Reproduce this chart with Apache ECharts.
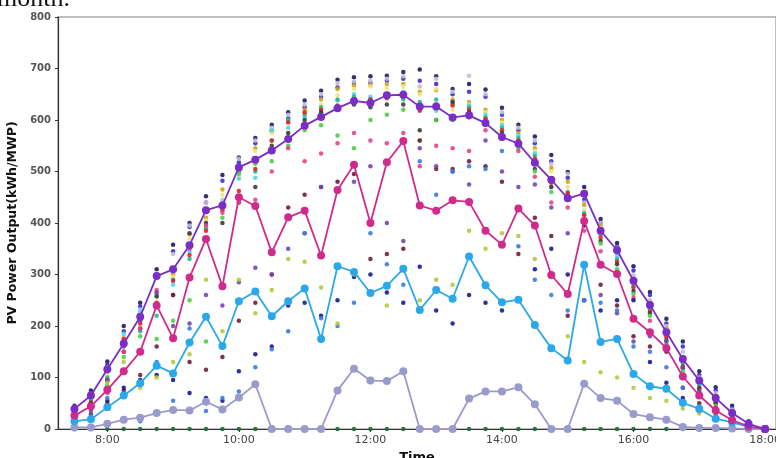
<!DOCTYPE html>
<html><head><meta charset="utf-8">
<script src="https://cdn.jsdelivr.net/npm/echarts@6/dist/echarts.min.js"></script>
<style>html,body{margin:0;padding:0;background:#fff}#c{width:776px;height:458px}</style>
</head><body><div id="c"></div>
<script>
const times = ['7:30','7:45','8:00','8:15','8:30','8:45','9:00','9:15','9:30','9:45','10:00','10:15','10:30','10:45','11:00','11:15','11:30','11:45','12:00','12:15','12:30','12:45','13:00','13:15','13:30','13:45','14:00','14:15','14:30','14:45','15:00','15:15','15:30','15:45','16:00','16:15','16:30','16:45','17:00','17:15','17:30','17:45','18:00'];
const xTickLabels = ['8:00','10:00','12:00','14:00','16:00','18:00'];
const yTicks = [0,100,200,300,400,500,600,700,800];

// highlighted lines
const linePurple  = [39,65,116,166,218,297,310,357,425,434,508,523,541,563,589,606,623,637,633,648,649,626,626,605,609,594,567,554,517,484,448,457,385,347,288,241,188,136,94,60,31,10,0];
const lineMagenta = [26,44,76,112,150,240,176,294,369,277,450,433,343,411,424,337,464,513,400,518,559,434,424,444,441,385,358,428,395,299,262,404,319,301,214,188,157,102,65,36,17,5,0];
const lineBlue    = [15,19,42,65,89,123,108,168,218,161,248,267,219,248,273,175,316,305,264,278,311,231,270,253,335,279,246,251,202,157,133,319,169,175,107,83,78,51,39,20,13,4,0];
const lineGrey    = [3,3,10,18,22,31,37,36,53,38,61,87,0,0,0,0,75,117,94,93,112,0,0,0,59,73,73,81,48,0,0,88,60,55,29,23,18,4,2,2,1,0,0];

// daily scatter values
const day01 = [45,75,131,200,245,310,358,400,452,493,527,565,591,615,638,657,678,683,685,686,693,698,685,660,670,659,624,591,568,532,499,470,408,361,316,266,214,170,112,81,45,15,0];
const day02 = [42,70,125,190,238,300,345,392,440,482,518,555,580,603,625,645,663,672,672,676,680,676,670,650,655,645,610,580,555,520,488,445,400,355,308,260,205,160,105,75,40,12,0];
const day03 = [40,68,120,180,232,265,340,395,440,445,525,560,585,610,630,650,672,675,676,680,685,665,680,655,686,650,615,585,560,515,495,440,400,352,298,250,200,150,100,70,38,10,0];
const day04 = [38,60,110,175,210,262,300,378,410,465,500,545,578,598,620,640,660,667,668,670,670,655,658,640,635,620,600,575,545,507,480,435,395,345,290,245,195,140,95,65,35,9,0];
const day05 = [35,62,105,170,205,255,295,370,405,455,490,540,575,575,612,630,648,660,665,662,665,650,660,620,630,615,595,560,540,500,470,425,390,340,285,240,190,135,92,62,33,8,0];
const day06 = [33,58,112,185,228,258,280,345,395,440,486,488,580,585,605,612,638,650,645,648,655,620,618,630,628,610,590,570,535,470,455,420,382,336,282,235,185,130,88,58,30,7,0];
const day07 = [30,55,100,150,190,220,290,330,390,430,500,500,560,600,610,625,640,645,640,645,640,635,640,635,625,605,585,565,530,482,460,418,378,330,278,232,182,127,85,55,28,6,0];
const day08 = [28,52,95,175,205,245,288,338,385,425,462,505,560,595,615,620,628,640,640,642,645,618,630,628,620,602,580,560,525,478,458,415,372,325,275,228,178,122,80,52,26,5,0];
const day09 = [25,50,93,150,195,258,260,380,400,400,440,470,550,575,600,615,625,630,625,630,630,580,600,635,615,595,575,550,505,470,450,405,365,320,268,225,172,118,78,50,25,5,0];
const day10 = [20,45,85,140,180,175,210,250,170,410,495,515,520,550,580,590,570,545,600,610,620,560,600,600,605,590,570,545,500,460,445,400,360,310,262,220,165,112,72,45,22,4,0];
const day11 = [20,40,70,150,195,270,310,350,395,420,440,445,500,545,520,535,555,575,560,555,575,510,550,545,540,580,565,540,490,440,430,385,345,305,255,210,160,105,70,42,20,4,0];
const day12 = [10,28,50,75,105,160,260,130,115,140,210,245,300,430,455,470,480,495,330,340,350,560,505,505,520,510,480,340,410,375,220,250,280,240,180,160,150,80,50,30,12,3,0];
const day13 = [12,35,95,160,210,265,200,205,260,240,285,313,300,350,380,470,465,480,510,400,365,545,510,500,475,560,500,470,475,430,380,250,260,225,170,180,170,120,75,40,18,3,0];
const day14 = [5,20,55,80,95,105,95,70,60,55,112,145,160,240,245,220,250,295,300,265,245,315,230,205,260,245,230,250,310,350,300,395,230,250,250,130,90,60,35,20,8,2,0];
const day15 = [8,25,60,110,15,130,55,195,35,60,73,120,155,190,380,215,200,245,380,320,280,520,455,500,510,505,540,355,290,260,230,250,245,230,160,150,120,80,45,25,10,2,0];
const day16 = [18,45,90,130,80,100,130,145,290,190,290,225,270,330,325,275,205,300,265,240,310,250,290,280,385,350,380,375,330,295,180,130,110,100,80,60,55,40,30,18,8,2,0];
const day17 = [0,0,0,0,0,0,0,0,0,0,0,0,0,0,0,0,0,0,0,0,0,0,0,0,0,0,0,0,0,0,0,0,0,0,0,0,0,0,0,0,0,0,0];

const days = [day01,day02,day03,day04,day05,day06,day07,day08,day09,day10,day11,day12,day13,day14,day15,day16,day17];
const dayColors = ['#1c1c5c','#3a2fc6','#bcbcd6','#d2a21c','#f0e47a','#52d6ea','#22b89a','#e02424','#3c3c3c','#4ccd48','#e8408a','#6e1e40','#7246b2','#1a1a92','#3a7ce0','#b4c840','#1b6b3a'];

function toMin(s){const p=s.split(':');return (+p[0])*60+(+p[1]);}
function fmt(v){const h=Math.floor(v/60),m=v%60;return h+':'+(m<10?'0':'')+m;}
const xs = times.map(toMin);
const pairs = arr => arr.map((v,i)=>[xs[i],v]);

const series = [];
days.forEach((d,k)=>{
  series.push({type:'scatter',data:pairs(d),symbolSize:4.5,itemStyle:{color:dayColors[k],opacity:0.9},silent:true,z:2});
});
const lines = [[lineGrey,'#9a9acb'],[lineBlue,'#2ba8ea'],[lineMagenta,'#d02b8c'],[linePurple,'#7b2ec6']];
lines.forEach(([d,c])=>{
  series.push({type:'line',data:pairs(d),symbol:'circle',symbolSize:8,lineStyle:{color:c,width:1.8},itemStyle:{color:c},z:5});
});

const chart = echarts.init(document.getElementById('c'));
chart.setOption({
  animation:false,
  backgroundColor:'#fff',
  grid:{left:58,top:17,right:0,bottom:29,outerBoundsMode:'none',containLabel:false,show:true,borderColor:'#aaaaaa',borderWidth:1.5},
  graphic:[{type:'text',left:-3,top:-14,style:{text:'month.',font:'26px "Liberation Serif"',fill:'#111'}}],
  xAxis:{type:'value',min:435,max:1090,
    name:'Time',nameLocation:'middle',nameGap:13,nameTextStyle:{fontWeight:'bold',fontSize:13,color:'#111',fontFamily:'DejaVu Sans'},
    axisLine:{lineStyle:{color:'#333',width:1.2}},
    axisTick:{show:true,length:3,customValues:xTickLabels.map(toMin),lineStyle:{color:'#333'}},
    axisLabel:{customValues:xTickLabels.map(toMin),formatter:v=>fmt(v),fontSize:11,color:'#444',margin:6,fontFamily:'DejaVu Sans'},
    splitLine:{show:false}},
  yAxis:{type:'value',min:yTicks[0],max:yTicks[yTicks.length-1],interval:100,
    name:'PV Power Output(kWh/MWP)',nameLocation:'middle',nameGap:32,nameTextStyle:{fontWeight:'bold',fontSize:12.5,color:'#111',fontFamily:'DejaVu Sans'},
    axisLine:{show:true,lineStyle:{color:'#333',width:1.2}},
    axisTick:{show:true,length:3,lineStyle:{color:'#333'}},
    axisLabel:{fontSize:10,color:'#555',margin:7,fontWeight:'bold',fontFamily:'DejaVu Sans'},
    splitLine:{show:false}},
  series:series
});
</script></body></html>
